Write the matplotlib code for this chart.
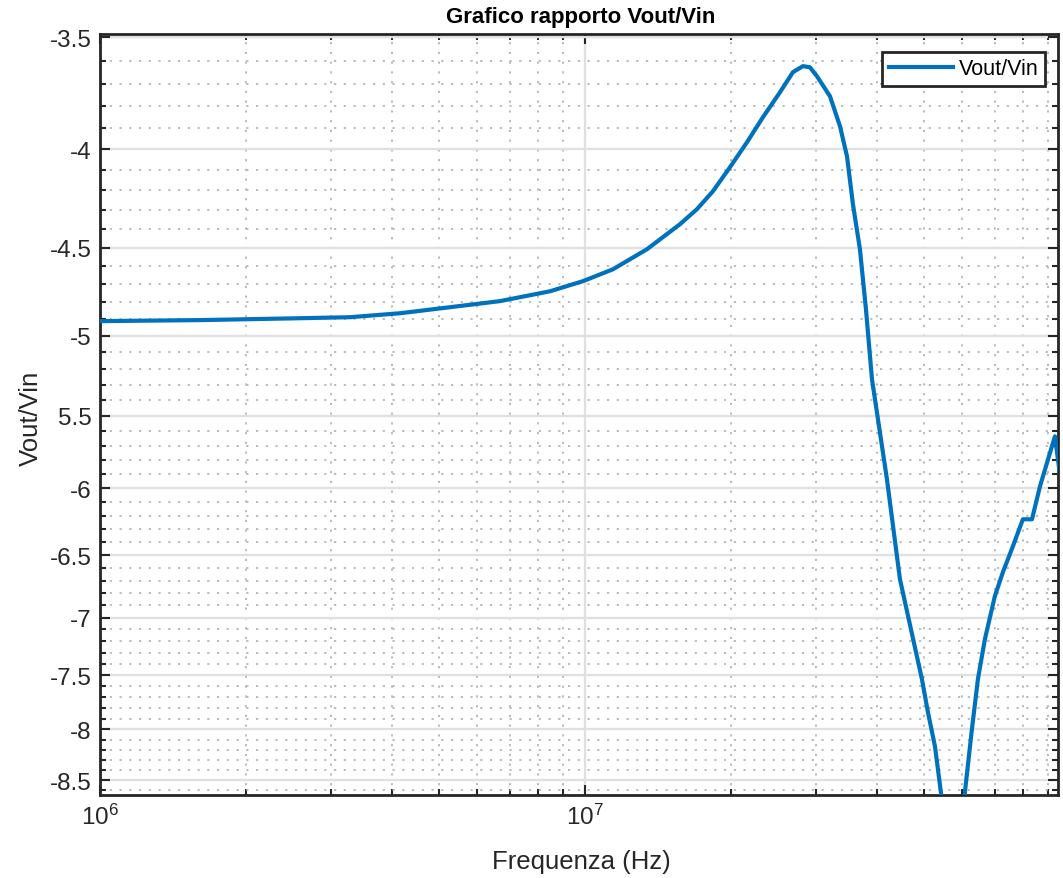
import numpy as np
import matplotlib
matplotlib.use("Agg")
import matplotlib.pyplot as plt
from matplotlib.ticker import FixedLocator, FixedFormatter, LogLocator, NullFormatter

plt.rcParams['font.family'] = ['Liberation Sans', 'DejaVu Sans']
plt.rcParams['mathtext.fontset'] = 'custom'
plt.rcParams['mathtext.rm'] = 'Liberation Sans'

# ---- data ----
freq_hz = [1.000e6, 1.608e6, 2.585e6, 3.278e6, 4.156e6, 5.268e6, 6.679e6, 8.470e6,
           9.906e6, 1.142e7, 1.342e7, 1.570e7, 1.702e7, 1.836e7, 1.991e7, 2.158e7,
           2.328e7, 2.524e7, 2.685e7, 2.815e7, 2.910e7, 3.009e7, 3.201e7, 3.357e7,
           3.470e7, 3.569e7, 3.690e7, 3.797e7, 3.907e7, 4.195e7, 4.462e7, 4.953e7,
           5.096e7, 5.268e7, 5.420e7, 5.711e7, 6.074e7, 6.279e7, 6.461e7, 6.679e7,
           7.002e7, 7.275e7, 7.628e7, 8.000e7, 8.352e7, 8.675e7, 9.313e7, 9.627e7]
vout_vin = [-4.913, -4.907, -4.896, -4.890, -4.867, -4.832, -4.797, -4.741,
            -4.684, -4.618, -4.509, -4.376, -4.298, -4.207, -4.088, -3.968,
            -3.851, -3.738, -3.649, -3.623, -3.628, -3.667, -3.756, -3.893,
            -4.035, -4.272, -4.509, -4.844, -5.266, -5.935, -6.687, -7.535,
            -7.838, -8.163, -8.625, -10.5, -8.625, -8.000, -7.535, -7.183,
            -6.824, -6.631, -6.429, -6.225, -6.225, -5.985, -5.638, -6.007]

ytick_values = [-3.5, -4, -4.5, -5, -5.5, -6, -6.5, -7, -7.5, -8, -8.5]
ytick_labels = ['-3.5', '-4', '-4.5', '-5', '5.5', '-6', '-6.5', '-7', '-7.5', '-8', '-8.5']
yminor_values = [-3.6 - 0.1 * i for i in range(51)]

title_text = 'Grafico rapporto Vout/Vin'
xlabel_text = 'Frequenza (Hz)'
ylabel_text = 'Vout/Vin'
legend_label = 'Vout/Vin'

W, H = 1063, 879
fig = plt.figure(figsize=(W / 100, H / 100), dpi=100)
ax = fig.add_axes([100 / W, 1 - 796 / H, (1058 - 100) / W, (796 - 34.5) / H])

# log axis of negative values: plot magnitudes on an inverted log axis
ax.plot(freq_hz, -np.array(vout_vin), color='#0072BD', lw=3.0, label=legend_label,
        solid_joinstyle='round', zorder=3)

ax.set_xscale('log')
ax.set_yscale('log')
ax.set_xlim(1e6, 9.45e7)
ax.set_ylim(8.653, 3.4845)

ax.yaxis.set_major_locator(FixedLocator([-v for v in ytick_values]))
ax.yaxis.set_major_formatter(FixedFormatter(ytick_labels))
ax.yaxis.set_minor_locator(FixedLocator([-v for v in yminor_values]))
ax.yaxis.set_minor_formatter(NullFormatter())
ax.xaxis.set_major_locator(LogLocator(base=10, numticks=10))
ax.xaxis.set_minor_locator(LogLocator(base=10, subs=np.arange(2, 10), numticks=20))
ax.xaxis.set_minor_formatter(NullFormatter())

ax.grid(which='major', color='#e0e0e0', lw=1.7, ls='-', zorder=0)
ax.grid(which='minor', color='#b5b5b5', lw=1.3, ls=(0, (1.2, 4.2)), zorder=0)
ax.set_axisbelow(True)

ax.tick_params(which='both', direction='in', top=True, right=True, colors='#262626',
               labelcolor='#262626', width=1.5)
ax.tick_params(which='major', length=7, labelsize=17.5, pad=6)
ax.tick_params(which='minor', length=4)
for s in ax.spines.values():
    s.set_color('#262626')
    s.set_linewidth(2.0)

fig.text(581 / W, 1 - 18 / H, title_text, ha='center', va='center', fontsize=16,
         fontweight='bold', color='#000000')
fig.text(581 / W, 1 - 862 / H, xlabel_text, ha='center', va='center', fontsize=18.5,
         color='#262626')
fig.text(31 / W, 1 - 418 / H, ylabel_text, ha='center', va='center', fontsize=18.5,
         rotation=90, color='#262626')

leg = ax.legend(loc='upper right', bbox_to_anchor=(1045 / W, 1 - 53 / H),
                bbox_transform=fig.transFigure, borderaxespad=0, fancybox=False,
                edgecolor='#262626', framealpha=1, fontsize=15.5, handlelength=3.0,
                handletextpad=0.25, borderpad=0.3)
leg.get_frame().set_linewidth(2.0)

fig.savefig('out.png', dpi=100)
